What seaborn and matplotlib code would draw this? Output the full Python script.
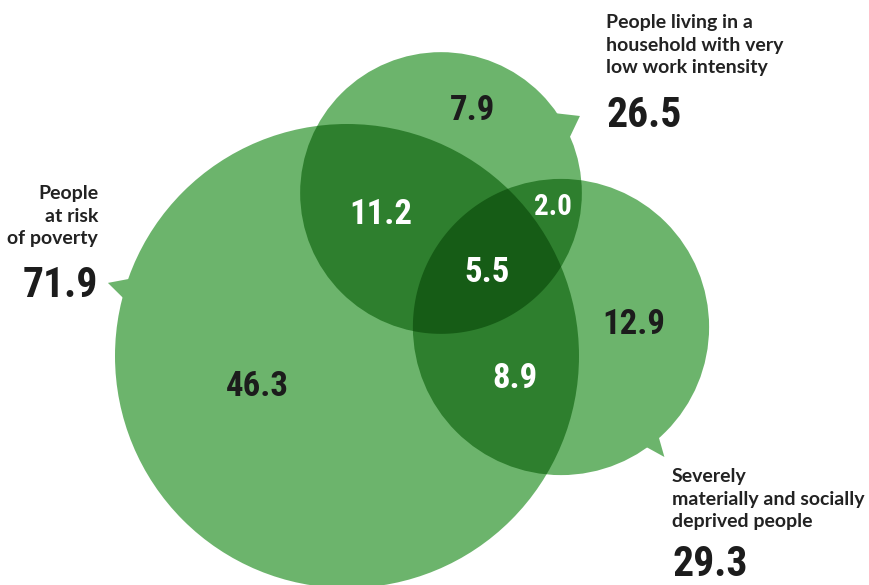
import numpy as np
import matplotlib
matplotlib.use("Agg")
import matplotlib.pyplot as plt
import seaborn as sns
from matplotlib import font_manager
from matplotlib.patches import Circle, Polygon

# -----------------------------------
# Data (millions of people)
# -----------------------------------
set_names = ["poverty", "work", "deprived"]
set_labels = [
    "People\nat risk\nof poverty",
    "People living in a\nhousehold with very\nlow work intensity",
    "Severely\nmaterially and socially\ndeprived people",
]
set_totals = [71.9, 26.5, 29.3]

region_keys = ["poverty", "work", "deprived",
               "poverty&work", "work&deprived", "poverty&deprived", "all"]
region_values = [46.3, 7.9, 12.9, 11.2, 2.0, 8.9, 5.5]

# -----------------------------------
# Layout (pixel space, y down)
# -----------------------------------
W, H = 869, 585
centers = {"poverty": (347, 356), "work": (441, 193), "deprived": (561, 327)}
scale = 232 / np.sqrt(71.9)          # radius ~ sqrt(total)
tail_angle = {"poverty": 163, "work": 29, "deprived": -51.5}
tail_half = {"poverty": 2.8, "work": 6.5, "deprived": 3.5}

region_pos = {
    "poverty": (257, 387), "work": (473, 110), "deprived": (634, 324),
    "poverty&work": (381, 214), "work&deprived": (553, 207),
    "poverty&deprived": (515, 378), "all": (487, 272),
}

LIGHT = "#6cb46c"
MID = "#2e7f2e"
DARK = "#165c16"
INK = "#1c1c1c"

sns.set_style("white")

# -----------------------------------
# Fonts: look for a condensed face for the numbers
# -----------------------------------
flist = font_manager.fontManager.ttflist
names = {f.name for f in flist}
cond_stretch = {f.name for f in flist if f.stretch in ("condensed", "semi-condensed", "extra-condensed")}
NUM_STRETCH = "normal"
NUM_SCALE = 1.0
NUM_FONT = None
for cand in ["Roboto Condensed", "Liberation Sans Narrow", "Open Sans Condensed", "Noto Sans Condensed",
             "DejaVu Sans Condensed", "Arial Narrow"]:
    if cand in names:
        NUM_FONT = cand
        break
if NUM_FONT is None:
    for cand in ["Roboto", "Noto Sans", "Open Sans", "DejaVu Sans"]:
        if cand in cond_stretch:
            NUM_FONT, NUM_STRETCH = cand, "condensed"
            break
if NUM_FONT is None:
    others = sorted(n for n in names if "Condensed" in n or "Narrow" in n)
    if others:
        NUM_FONT = others[0]
    else:
        NUM_FONT, NUM_SCALE = "Liberation Sans", 0.84
NUM_FAMILY = [NUM_FONT, "DejaVu Sans"]
LAB_FONT = ["Lato", "DejaVu Sans"]

fig = plt.figure(figsize=(W / 100, H / 100), dpi=100)
ax = fig.add_axes([0, 0, 1, 1])
ax.set_xlim(0, W)
ax.set_ylim(H, 0)
ax.axis("off")

radius = {n: scale * np.sqrt(t) for n, t in zip(set_names, set_totals)}


def pt(name, ang, r):
    cx, cy = centers[name]
    a = np.deg2rad(ang)
    return (cx + r * np.cos(a), cy - r * np.sin(a))


# base circles + speech-bubble tails
circ = {}
for n in set_names:
    c = Circle(centers[n], radius[n], facecolor=LIGHT, edgecolor="none", zorder=1)
    ax.add_patch(c)
    circ[n] = c
    r = radius[n]
    a, d = tail_angle[n], tail_half[n]
    tail = Polygon([pt(n, a - d, r - 3), pt(n, a, r + 18), pt(n, a + d, r - 3)],
                   closed=True, facecolor=LIGHT, edgecolor="none", zorder=1)
    ax.add_patch(tail)

# pairwise overlaps
for a_, b_ in [("poverty", "work"), ("work", "deprived"), ("poverty", "deprived")]:
    c = Circle(centers[b_], radius[b_], facecolor=MID, edgecolor="none", zorder=2)
    ax.add_patch(c)
    c.set_clip_path(circ[a_])


# triple overlap: lens of work & deprived clipped by poverty
def lens(n1, n2, k=720):
    th = np.linspace(0, 2 * np.pi, k, endpoint=False)
    pts = []
    for p, q in [(n1, n2), (n2, n1)]:
        cx, cy = centers[p]
        xs = cx + radius[p] * np.cos(th)
        ys = cy + radius[p] * np.sin(th)
        qx, qy = centers[q]
        inside = (xs - qx) ** 2 + (ys - qy) ** 2 <= radius[q] ** 2
        pts.append(np.column_stack([xs[inside], ys[inside]]))
    pts = np.vstack(pts)
    m = pts.mean(axis=0)
    order = np.argsort(np.arctan2(pts[:, 1] - m[1], pts[:, 0] - m[0]))
    return pts[order]


tri = Polygon(lens("work", "deprived"), closed=True, facecolor=DARK, edgecolor="none", zorder=3)
ax.add_patch(tri)
tri.set_clip_path(circ["poverty"])

# region numbers
for key, val in zip(region_keys, region_values):
    x, y = region_pos[key]
    col = INK if "&" not in key and key != "all" else "white"
    size = (21 if key == "work&deprived" else 25) * NUM_SCALE
    ax.text(x, y, f"{val:.1f}", ha="center", va="center", color=col,
            fontsize=size, fontweight="bold", family=NUM_FAMILY,
            fontstretch=NUM_STRETCH, zorder=5)

# outside labels
lab_pos = {"poverty": (98, 185, "right"), "work": (606, 14, "left"), "deprived": (672, 468, "left")}
num_pos = {"poverty": (98, 297, "baseline"), "work": (606, 127, "baseline"), "deprived": (672, 585, "bottom")}
for n, lab, tot in zip(set_names, set_labels, set_totals):
    x, y, ha = lab_pos[n]
    ax.text(x, y, lab, ha=ha, va="top", color="#222222", fontsize=14,
            fontweight="bold", family=LAB_FONT, linespacing=1.4, zorder=5)
    nx, ny, va = num_pos[n]
    ax.text(nx, ny, f"{tot:.1f}", ha=ha, va=va, color=INK,
            fontsize=30 * NUM_SCALE, fontweight="bold", family=NUM_FAMILY,
            fontstretch=NUM_STRETCH, zorder=5)

fig.savefig("out.png", dpi=100)
